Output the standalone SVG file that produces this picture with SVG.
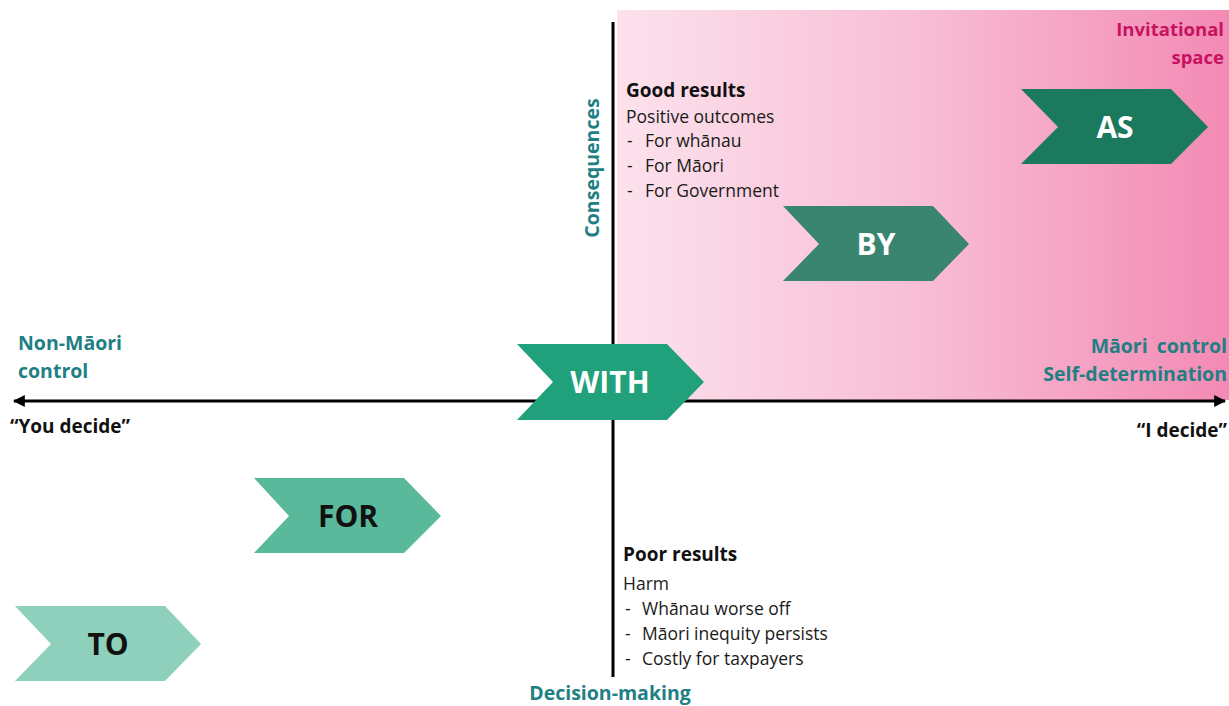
<svg xmlns="http://www.w3.org/2000/svg" width="1229" height="706" viewBox="0 0 1229 706">
<defs>
<linearGradient id="pink" x1="0" y1="0" x2="1" y2="0">
<stop offset="0" stop-color="#fce2ed"/>
<stop offset="0.5" stop-color="#f8bdd4"/>
<stop offset="1" stop-color="#f38ab4"/>
</linearGradient>
<marker id="arr" viewBox="0 0 10 10" refX="9" refY="5" markerWidth="4" markerHeight="4" orient="auto-start-reverse">
<path d="M0,0 L10,5 L0,10 z" fill="#000"/>
</marker>
</defs>
<style>
text{font-family:"Open Sans","Liberation Sans",sans-serif;}
.b{font-weight:bold;}
.teal{fill:#217f84;font-weight:bold;font-size:19.5px;}
.body{font-size:17.5px;fill:#1a1a1a;}
.head{font-size:19px;font-weight:bold;fill:#111;}
.cw{font-size:30px;font-weight:bold;fill:#fff;text-anchor:middle;}
.cb{font-size:30px;font-weight:bold;fill:#111;text-anchor:middle;}
</style>
<rect width="1229" height="706" fill="#fff"/>
<rect id="invitational-area" x="617" y="10" width="612" height="390" fill="url(#pink)"/>
<g id="connectors" stroke="#000" stroke-width="3" fill="none">
<line x1="613" y1="22" x2="613" y2="677"/>
<line x1="14" y1="401" x2="1225" y2="401" marker-start="url(#arr)" marker-end="url(#arr)"/>
</g>
<g id="labels">
<text x="1224" y="36" text-anchor="end" class="b" font-size="18.5" fill="#c7125f">Invitational</text>
<text x="1224" y="64" text-anchor="end" class="b" font-size="18.5" fill="#c7125f">space</text>
<text transform="translate(599,168) rotate(-90)" text-anchor="middle" class="teal">Consequences</text>
<text x="18" y="350" class="teal">Non-Māori</text>
<text x="18" y="378" class="teal">control</text>
<text x="1227" y="353" text-anchor="end" class="teal" word-spacing="4">Māori control</text>
<text x="1227" y="381" text-anchor="end" class="teal">Self-determination</text>
<text x="10" y="433" class="head">“You decide”</text>
<text x="1227" y="437" text-anchor="end" class="head">“I decide”</text>
<text x="610" y="700" text-anchor="middle" class="teal">Decision-making</text>
</g>
<g id="good-results">
<text x="626" y="97" class="head">Good results</text>
<text x="626" y="123" class="body">Positive outcomes</text>
<text x="627" y="147" class="body">-</text><text x="645" y="147" class="body">For whānau</text>
<text x="627" y="172" class="body">-</text><text x="645" y="172" class="body">For Māori</text>
<text x="627" y="197" class="body">-</text><text x="645" y="197" class="body">For Government</text>
</g>
<g id="poor-results">
<text x="623" y="561" class="head">Poor results</text>
<text x="623" y="590" class="body" font-size="20">Harm</text>
<text x="625" y="615" class="body">-</text><text x="642" y="615" class="body">Whānau worse off</text>
<text x="625" y="640" class="body">-</text><text x="642" y="640" class="body">Māori inequity persists</text>
<text x="625" y="665" class="body">-</text><text x="642" y="665" class="body">Costly for taxpayers</text>
</g>
<g id="as">
<polygon points="1021,89 1171,89 1208,127 1171,164 1021,164 1058,127" fill="#1b7a5d"/>
<text x="1115" y="138" class="cw">AS</text>
</g>
<g id="by">
<polygon points="783,206 933,206 969,244 933,281 783,281 819,244" fill="#3a856f"/>
<text x="876" y="255" class="cw">BY</text>
</g>
<g id="with">
<polygon points="517,344 667,344 704,382 667,420 517,420 553,382" fill="#20a17c"/>
<text x="610" y="393" class="cw">WITH</text>
</g>
<g id="for">
<polygon points="254,478 404,478 441,516 404,553 254,553 289,516" fill="#5ab99b"/>
<text x="348" y="527" class="cb">FOR</text>
</g>
<g id="to">
<polygon points="15,606 165,606 201,644 165,681 15,681 51,644" fill="#8fd0bc"/>
<text x="108" y="655" class="cb">TO</text>
</g>
</svg>
